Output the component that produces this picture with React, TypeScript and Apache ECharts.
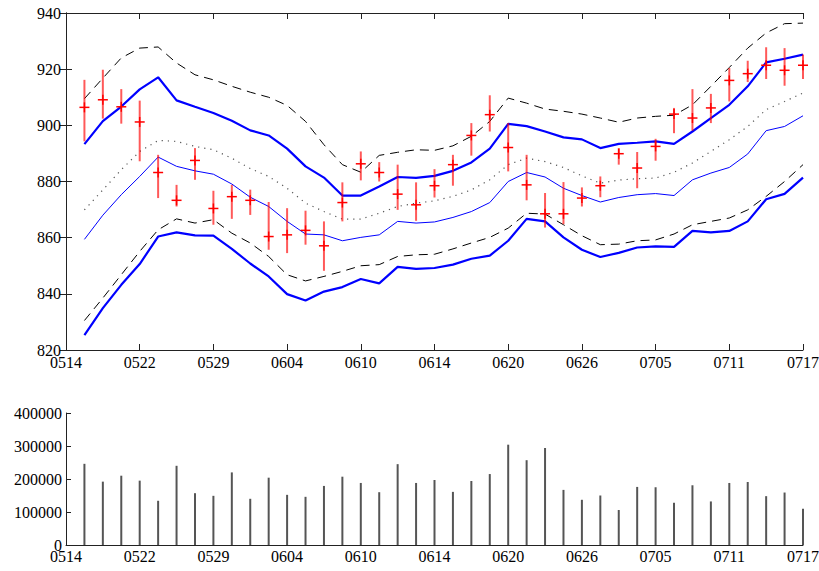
import React, { useEffect, useRef } from "react";
import * as echarts from "echarts";

const tickLabels = ["0514", "0522", "0529", "0604", "0610", "0614", "0620", "0626", "0705", "0711", "0717"];

const upperBand = [893.3, 901.5, 906.7, 912.8, 917.1, 908.9, 906.6, 904.4, 901.6, 898.2, 896.4, 891.7, 885.4, 881.4, 875.0, 875.0, 878.2, 881.6, 881.3, 882.0, 883.8, 886.8, 891.7, 900.5, 899.7, 897.8, 895.7, 895.0, 891.9, 893.4, 893.8, 894.3, 893.4, 897.8, 902.6, 907.3, 913.9, 922.4, 923.7, 925.2];
const upperDash = [909.5, 916.8, 924.0, 927.5, 927.9, 922.2, 918.0, 916.2, 913.9, 911.8, 910.0, 907.1, 901.4, 893.1, 886.0, 883.3, 889.3, 890.4, 891.3, 891.1, 892.7, 896.1, 901.4, 909.7, 907.9, 905.8, 905.0, 904.0, 902.6, 901.1, 902.6, 903.2, 903.6, 907.3, 913.9, 920.6, 927.5, 932.9, 936.2, 936.4];
const midDotted = [869.9, 877.0, 884.2, 890.7, 894.6, 894.3, 892.5, 891.3, 888.3, 884.6, 881.8, 877.6, 872.3, 869.3, 866.6, 866.6, 868.7, 871.1, 872.3, 873.1, 874.7, 877.0, 880.6, 886.0, 888.3, 887.1, 885.0, 882.0, 879.4, 880.5, 881.0, 881.2, 883.3, 886.6, 890.7, 894.9, 899.6, 905.6, 908.5, 911.5];
const thinLine = [859.4, 868.0, 875.3, 881.8, 888.7, 885.4, 883.8, 882.6, 879.1, 874.4, 871.1, 865.8, 861.3, 861.0, 858.9, 860.1, 861.0, 865.8, 865.2, 865.6, 867.2, 869.3, 872.5, 880.0, 883.2, 881.6, 877.6, 875.0, 872.7, 874.3, 875.3, 875.7, 875.0, 880.6, 883.0, 885.0, 889.8, 898.1, 899.6, 903.4];
const lowerDash = [830.5, 838.5, 846.8, 855.1, 862.8, 866.7, 865.2, 866.4, 861.6, 858.1, 853.3, 846.8, 844.6, 846.2, 848.0, 850.0, 850.4, 853.3, 853.9, 854.1, 856.0, 858.1, 860.1, 863.4, 868.7, 868.4, 864.6, 860.7, 857.5, 857.7, 858.9, 859.2, 861.3, 864.6, 865.8, 867.0, 869.9, 874.7, 880.0, 886.0];
const lowerBand = [825.3, 834.9, 843.2, 850.6, 860.4, 861.9, 860.8, 860.7, 856.0, 850.8, 846.2, 839.9, 837.6, 840.8, 842.4, 845.3, 843.7, 849.6, 848.9, 849.2, 850.4, 852.5, 853.6, 858.9, 866.7, 865.8, 860.1, 855.7, 853.1, 854.6, 856.5, 856.9, 856.7, 862.4, 861.9, 862.4, 865.8, 873.7, 875.6, 881.4];
const closeVals = [906.4, 909.1, 906.6, 901.2, 883.2, 873.3, 887.5, 870.4, 874.6, 873.3, 860.4, 861.0, 862.6, 857.1, 872.5, 886.3, 883.2, 875.5, 871.7, 878.5, 886.0, 896.4, 903.8, 892.1, 878.8, 868.5, 868.5, 874.1, 878.5, 889.9, 884.8, 892.5, 904.0, 902.6, 906.2, 916.0, 918.4, 921.4, 919.6, 921.4];
const errHigh = [916.2, 919.8, 912.9, 908.8, 889.5, 878.8, 891.9, 876.7, 878.8, 877.1, 872.7, 870.5, 869.6, 865.8, 879.7, 890.7, 886.9, 886.0, 879.7, 884.4, 889.5, 900.8, 910.7, 900.8, 889.5, 875.9, 879.8, 877.9, 881.8, 891.9, 890.5, 895.2, 906.2, 912.9, 911.2, 920.4, 923.0, 927.8, 927.5, 925.2];
const errLow = [894.3, 902.4, 900.6, 887.2, 874.1, 871.1, 880.6, 864.6, 866.7, 868.1, 855.7, 854.5, 857.5, 848.2, 865.8, 880.4, 880.0, 869.9, 866.0, 874.3, 878.5, 889.2, 897.8, 883.6, 873.3, 863.6, 864.8, 871.1, 874.4, 886.0, 877.6, 887.4, 897.2, 898.1, 900.8, 908.5, 915.4, 916.5, 914.1, 916.5];
const volume = [246000, 192000, 210000, 195000, 134000, 240000, 157000, 149000, 220000, 140000, 204000, 152000, 146000, 179000, 207000, 188000, 160000, 245000, 188000, 197000, 161000, 194000, 215000, 304000, 257000, 294000, 167000, 137000, 150000, 106000, 176000, 175000, 128000, 181000, 132000, 188000, 191000, 148000, 159000, 110000];

const FONT = "Liberation Serif";
const pts = (arr: number[]) => arr.map((v, i) => [i + 1, v]);

export default function App() {
  const ref = useRef<HTMLDivElement>(null);
  useEffect(() => {
    const chart = echarts.init(ref.current!, null, { renderer: "svg" });
    const labelStyle = { fontFamily: FONT, fontSize: 16, color: "#000", fontWeight: "normal" };
    const lineAxis = { show: true, lineStyle: { color: "#222", width: 1 } };
    const xBase = { type: "value", min: 0, max: 40, interval: 4, splitLine: { show: false } };
    const xFmt = (v: number) => tickLabels[Math.round(v / 4)] ?? "";
    const lineSeries = (name: string, data: number[], color: string, width: number, type: any) => ({
      name,
      type: "line",
      xAxisIndex: 0,
      yAxisIndex: 0,
      data: pts(data),
      symbol: "none",
      showSymbol: false,
      lineStyle: { color, width, type },
      z: 2,
    });
    chart.setOption({
      animation: false,
      backgroundColor: "#fff",
      textStyle: { fontFamily: FONT },
      grid: [
        { left: 66, right: 16, top: 13, height: 337, containLabel: false, outerBoundsMode: "none" },
        { left: 66, right: 16, top: 413, height: 132, containLabel: false, outerBoundsMode: "none" },
      ],
      xAxis: [
        {
          ...xBase, gridIndex: 0, position: "bottom",
          axisLine: lineAxis, axisTick: { show: true, inside: true, length: 6, lineStyle: { color: "#222" } },
          axisLabel: { ...labelStyle, margin: 4, formatter: xFmt },
        },
        {
          ...xBase, gridIndex: 0, position: "top",
          axisLine: lineAxis, axisTick: { show: true, inside: true, length: 6, lineStyle: { color: "#222" } },
          axisLabel: { show: false },
        },
        {
          ...xBase, gridIndex: 1, position: "bottom",
          axisLine: lineAxis, axisTick: { show: false },
          axisLabel: { ...labelStyle, margin: 3, formatter: xFmt },
        },
      ],
      yAxis: [
        {
          type: "value", gridIndex: 0, position: "left", min: 820, max: 940, interval: 20,
          splitLine: { show: false }, axisLine: lineAxis,
          axisTick: { show: true, inside: true, length: 6, lineStyle: { color: "#222" } },
          axisLabel: { ...labelStyle, margin: 5, formatter: (v: number) => String(v) },
        },
        {
          type: "value", gridIndex: 0, position: "right", min: 820, max: 940, interval: 20,
          splitLine: { show: false }, axisLine: lineAxis,
          axisTick: { show: true, inside: true, length: 6, lineStyle: { color: "#222" } },
          axisLabel: { show: false },
        },
        {
          type: "value", gridIndex: 1, position: "left", min: 0, max: 400000, interval: 100000,
          splitLine: { show: false }, axisLine: lineAxis,
          axisTick: { show: true, inside: true, length: 5, lineStyle: { color: "#222" } },
          axisLabel: { ...labelStyle, margin: 4, formatter: (v: number) => String(v) },
        },
      ],
      series: [
        lineSeries("upperDash", upperDash, "#000", 1, [9, 6]),
        lineSeries("lowerDash", lowerDash, "#000", 1, [9, 6]),
        lineSeries("mid", midDotted, "#555", 1.2, [1.2, 5]),
        lineSeries("thin", thinLine, "#0000ff", 1, "solid"),
        lineSeries("upperBand", upperBand, "#0000ff", 2.2, "solid"),
        lineSeries("lowerBand", lowerBand, "#0000ff", 2.2, "solid"),
        {
          name: "price",
          type: "custom",
          xAxisIndex: 0,
          yAxisIndex: 0,
          z: 5,
          encode: { x: 0, y: 1 },
          data: closeVals.map((v, i) => [i + 1, v, errLow[i], errHigh[i]]),
          renderItem: (params: any, api: any) => {
            const x = api.value(0);
            const p = api.coord([x, api.value(1)]);
            const lo = api.coord([x, api.value(2)]);
            const hi = api.coord([x, api.value(3)]);
            return {
              type: "group",
              children: [
                { type: "line", shape: { x1: p[0], y1: hi[1], x2: p[0], y2: lo[1] }, style: { stroke: "rgba(255,0,0,0.65)", lineWidth: 2 } },
                { type: "line", shape: { x1: p[0] - 5, y1: p[1], x2: p[0] + 5, y2: p[1] }, style: { stroke: "#ff0000", lineWidth: 1.5 } },
                { type: "line", shape: { x1: p[0], y1: p[1] - 5, x2: p[0], y2: p[1] + 5 }, style: { stroke: "#ff0000", lineWidth: 1.5 } },
              ],
            };
          },
        },
        {
          name: "volume",
          type: "bar",
          xAxisIndex: 2,
          yAxisIndex: 2,
          barWidth: 2,
          data: pts(volume),
          itemStyle: { color: "#555" },
        },
      ],
    });
    return () => chart.dispose();
  }, []);
  return <div ref={ref} style={{ position: "absolute", left: 0, top: 0, width: 819, height: 571, background: "#fff", fontFamily: FONT }} />;
}
